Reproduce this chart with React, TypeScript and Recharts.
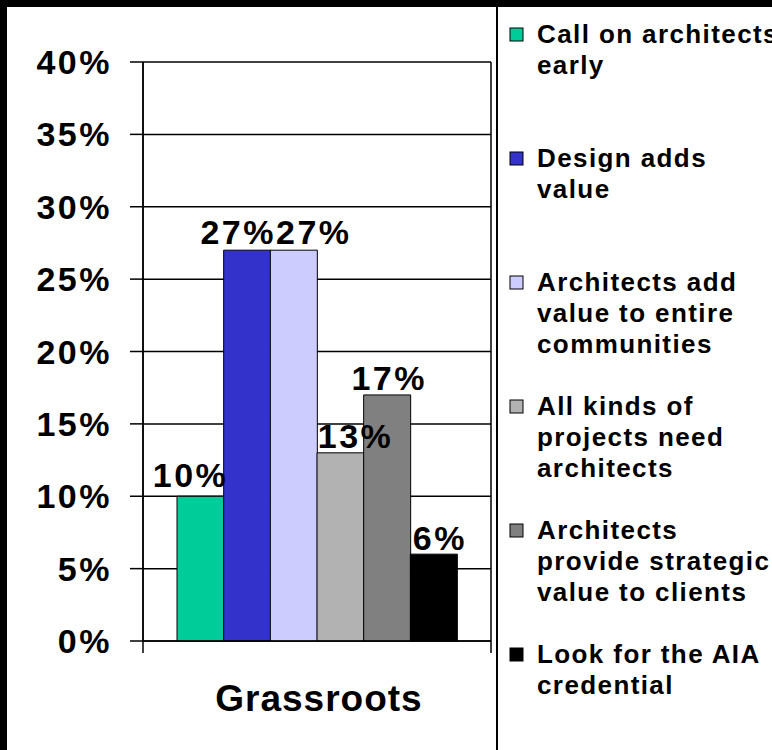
import React from 'react';
import { BarChart, Bar, XAxis, YAxis, CartesianGrid, LabelList, Cell } from 'recharts';

const category = 'Grassroots';

const seriesNames = [
  'Call on architects early',
  'Design adds value',
  'Architects add value to entire communities',
  'All kinds of projects need architects',
  'Architects provide strategic value to clients',
  'Look for the AIA credential',
];

const seriesValues = [10, 27, 27, 13, 17, 6];

const seriesColors = ['#00CC99', '#3333CC', '#CCCCFF', '#B2B2B2', '#808080', '#000000'];

// legend text wrapped the way the original slide wraps it
const legendLines = [
  ['Call on architects', 'early'],
  ['Design adds', 'value'],
  ['Architects add', 'value to entire', 'communities'],
  ['All kinds of', 'projects need', 'architects'],
  ['Architects', 'provide strategic', 'value to clients'],
  ['Look for the AIA', 'credential'],
];

const yTicks = [0, 5, 10, 15, 20, 25, 30, 35, 40];

// small nudges so the value labels sit like the original (they crowd each other)
const labelNudge = [
  [-10, -9],
  [-9, -6],
  [20, -6],
  [15, -5],
  [2, -5],
  [6, -4],
];

const data = seriesNames.map((name, i) => ({ name, value: seriesValues[i] }));

const FONT = '"Liberation Sans", Arial, Helvetica, sans-serif';

const renderValueLabel = (props: any) => {
  const vb = props.viewBox || props;
  const i = props.index ?? 0;
  const [dx, dy] = labelNudge[i] || [0, -5];
  return (
    <text
      x={vb.x + vb.width / 2 + dx}
      y={vb.y + dy}
      textAnchor="middle"
      fill="#000"
      fontSize={34}
      fontWeight={700}
      fontFamily={FONT}
      letterSpacing={2.5}
    >
      {`${props.value}%`}
    </text>
  );
};

const renderCategoryLabel = (props: any) => {
  const vb = props.viewBox;
  return (
    <text
      x={vb.x + vb.width / 2 + 2}
      y={vb.y + 70}
      textAnchor="middle"
      fill="#000"
      fontSize={37}
      fontWeight={700}
      fontFamily={FONT}
      letterSpacing={1}
    >
      {category}
    </text>
  );
};

const ChartLegend = () => (
  <svg width={280} height={743} style={styles.legendSvg}>
    {legendLines.map((lines, i) => {
      const base = 36 + i * 124;
      return (
        <g key={seriesNames[i]}>
          <rect x={14} y={base - 15} width={13} height={13} fill={seriesColors[i]} stroke="#000" strokeWidth={1} />
          {lines.map((line, j) => (
            <text
              key={line}
              x={41}
              y={base + j * 31}
              fill="#000"
              fontSize={26}
              fontWeight={700}
              fontFamily={FONT}
              letterSpacing={1.4}
              style={{ whiteSpace: 'pre' }}
            >
              {line}
            </text>
          ))}
        </g>
      );
    })}
  </svg>
);

export default function App() {
  return (
    <div style={styles.frame}>
      <div style={styles.panel} />
      <div style={styles.chart}>
        <BarChart
          width={496}
          height={750}
          data={data}
          margin={{ top: 62, right: 5, bottom: 49, left: 0 }}
          barCategoryGap={0}
          barGap={0}
        >
          <CartesianGrid vertical={false} stroke="#000" strokeWidth={1.5} strokeOpacity={1} />
          {/* mirrored top axis: its long tick lines form the left/right frame of the plot */}
          <XAxis
            xAxisId="edge"
            orientation="top"
            mirror
            type="number"
            dataKey={() => 0.5}
            domain={[0, 1]}
            ticks={[0, 1]}
            allowDataOverflow
            height={1}
            tickSize={579}
            tickFormatter={() => ''}
            tickLine={{ stroke: '#000', strokeWidth: 1.5 }}
            axisLine={false}
          />
          <XAxis
            xAxisId="num"
            type="number"
            dataKey={() => 0.5}
            domain={[0, 1]}
            ticks={[0, 1]}
            allowDataOverflow
            height={60}
            tickSize={12}
            tickFormatter={() => ''}
            tickLine={{ stroke: '#000', strokeWidth: 1.5 }}
            axisLine={{ stroke: '#000', strokeWidth: 1.5 }}
            label={renderCategoryLabel}
          />
          <XAxis xAxisId="cat" dataKey="name" type="category" hide height={0} padding={{ left: 34, right: 34 }} />
          <YAxis
            domain={[0, 40]}
            ticks={yTicks}
            interval={0}
            width={143}
            tickSize={13}
            tickMargin={18}
            tickFormatter={(v: number) => `${v}%`}
            tick={{ fill: '#000', fontSize: 34, fontWeight: 700, fontFamily: FONT, letterSpacing: 2.5 }}
            tickLine={{ stroke: '#000', strokeWidth: 1.5 }}
            axisLine={{ stroke: '#000', strokeWidth: 1.5 }}
          />
          <Bar dataKey="value" xAxisId="cat" stroke="#000" strokeWidth={1} isAnimationActive={false}>
            {data.map((entry, index) => (
              <Cell key={`cell-${index}`} fill={seriesColors[index]} />
            ))}
            <LabelList dataKey="value" content={renderValueLabel} />
          </Bar>
        </BarChart>
      </div>
      <div style={styles.legend}>
        <ChartLegend />
      </div>
    </div>
  );
}

const styles: Record<string, React.CSSProperties> = {
  frame: {
    position: 'absolute',
    left: 0,
    top: 0,
    width: 772,
    height: 750,
    background: '#000',
    overflow: 'hidden',
  },
  panel: {
    position: 'absolute',
    left: 7,
    top: 7,
    width: 765,
    height: 743,
    background: '#fff',
  },
  chart: {
    position: 'absolute',
    left: 0,
    top: 0,
  },
  legend: {
    position: 'absolute',
    left: 496,
    top: 7,
    width: 276,
    height: 743,
    background: '#fff',
    borderLeft: '2px solid #000',
    overflow: 'hidden',
  },
  legendSvg: {
    position: 'absolute',
    left: -2,
    top: 0,
    overflow: 'visible',
  },
};
